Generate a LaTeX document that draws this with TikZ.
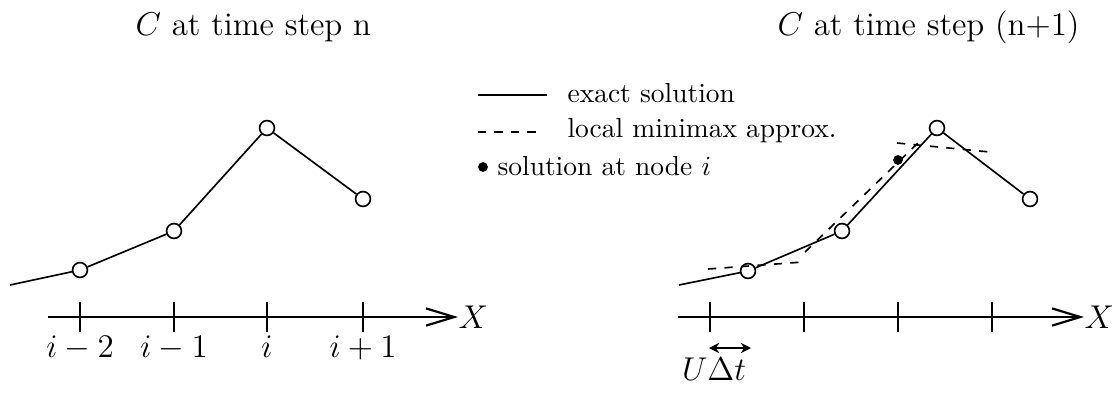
\documentclass[tikz,border=0pt]{standalone}
\usetikzlibrary{arrows.meta,positioning}
\tikzset{
  titletext/.style={font=\large,anchor=base west,inner sep=0pt},
  legtext/.style={anchor=base west,inner sep=0pt},
  ticklabel/.style={font=\large,anchor=base,inner sep=0pt},
  axislabel/.style={font=\large,anchor=west,inner sep=0pt},
  gridpt/.style={circle,draw,semithick,inner sep=0pt,minimum size=0.19cm},
  soldot/.style={circle,fill=black,inner sep=0pt,minimum size=0.125cm},
  exact/.style={semithick},
  minimax/.style={semithick,dash pattern=on 3pt off 3pt},
  axis/.style={thick,-{Straight Barb[length=3.6mm,width=2.2mm]}},
  tick/.style={semithick},
  shiftarr/.style={semithick,{Stealth[length=1.3mm,width=1.3mm]}-{Stealth[length=1.3mm,width=1.3mm]}}
}

\begin{document}
\begin{tikzpicture}[x=0.01278cm,y=-0.01278cm]
  \useasboundingbox (0,0) rectangle (1112,394);

  % titles
  \node[titletext] (titleL) at (135,35) {$C$ at time step n};
  \node[titletext] (titleR) at (777,35) {$C$ at time step (n+1)};

  % legend
  \coordinate (legA1) at (478,95);  \coordinate (legB1) at (547,95);
  \coordinate (legA2) at (478,132); \coordinate (legB2) at (542,132);
  \draw[exact] (legA1) -- (legB1);
  \draw[minimax] (legA2) -- (legB2);
  \node[soldot] (legdot) at (483,167) {};
  \node[legtext] (legexact) at (567,102) {exact solution};
  \node[legtext] (legmm) at (567,137) {local minimax approx.};
  \node[legtext] (legsol) at (497,175) {solution at node $i$};

  % left panel: time step n
  \coordinate (startL) at (10,285);
  \node[gridpt] (nL1) at (80,270) {};
  \node[gridpt] (nL2) at (174,231) {};
  \node[gridpt] (nL3) at (267,128) {};
  \node[gridpt] (nL4) at (363,199) {};
  \draw[exact] (startL) -- (nL1) -- (nL2) -- (nL3) -- (nL4);

  \coordinate (axL0) at (48,317);
  \node[axislabel] (xL) at (458,317) {$X$};
  \draw[axis] (axL0) -- (xL.west);
  \foreach \x/\lab in {80/i-2,174/i-1,267/i,363/i+1}{
    \draw[tick] (\x,302) -- (\x,332);
    \node[ticklabel] at (\x,357) {$\lab$};
  }

  % right panel: time step n+1
  \coordinate (startR) at (679,285);
  \node[gridpt] (nR1) at (748,271) {};
  \node[gridpt] (nR2) at (842,231) {};
  \node[gridpt] (nR3) at (937,128) {};
  \node[gridpt] (nR4) at (1030,199) {};
  \draw[exact] (startR) -- (nR1) -- (nR2) -- (nR3) -- (nR4);

  \coordinate (mmA1) at (708,269); \coordinate (mmB1) at (803,262);
  \coordinate (mmA2) at (805,252); \coordinate (mmB2) at (920,141);
  \coordinate (mmA3) at (897,143); \coordinate (mmB3) at (990,152);
  \draw[minimax] (mmA1) -- (mmB1);
  \draw[minimax] (mmA2) -- (mmB2);
  \draw[minimax] (mmA3) -- (mmB3);
  \node[soldot] (solR) at (898,160) {};

  \coordinate (axR0) at (678,317);
  \node[axislabel] (xR) at (1084,317) {$X$};
  \draw[axis] (axR0) -- (xR.west);
  \foreach \x in {710,804,898,992}{
    \draw[tick] (\x,302) -- (\x,332);
  }

  \coordinate (dtA) at (709,348);
  \coordinate (dtB) at (751,348);
  \draw[shiftarr] (dtA) -- (dtB);
  \node[font=\large,anchor=base,inner sep=0pt] (dtlab) at (714,380) {$U\Delta t$};
\end{tikzpicture}
\end{document}
